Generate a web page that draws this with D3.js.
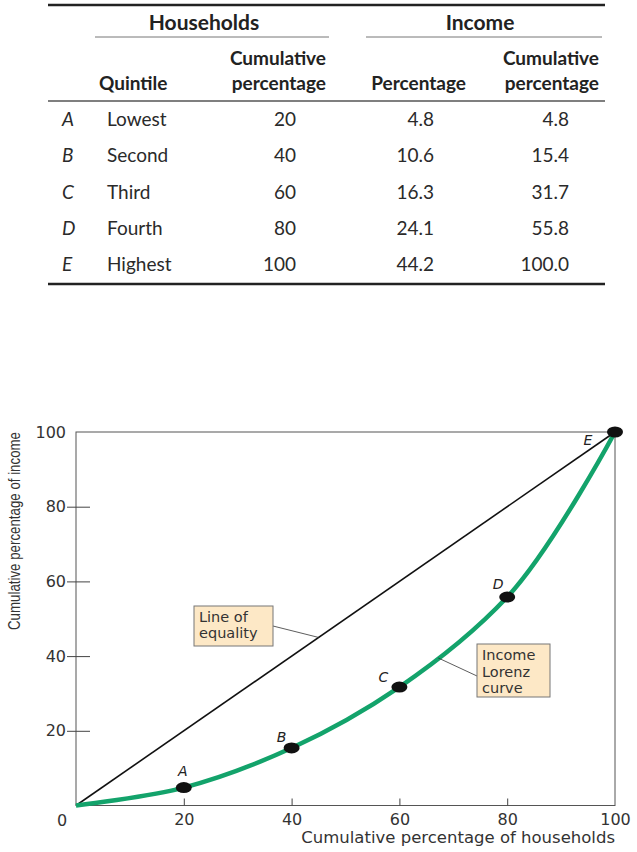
<!DOCTYPE html>
<html>
<head>
<meta charset="utf-8">
<script src="https://cdn.jsdelivr.net/npm/d3@7"></script>
<style>
  body { margin: 0; background: #fff; }
  svg { display: block; }
</style>
</head>
<body>
<svg id="chart" width="637" height="852"></svg>
<script>
// table data
var letters = ['A', 'B', 'C', 'D', 'E'];
var quintiles = ['Lowest', 'Second', 'Third', 'Fourth', 'Highest'];
var householdsCum = [20, 40, 60, 80, 100];
var incomePct = ['4.8', '10.6', '16.3', '24.1', '44.2'];
var incomeCum = ['4.8', '15.4', '31.7', '55.8', '100.0'];

// chart data
var xTicks = [20, 40, 60, 80, 100];
var yTicks = [20, 40, 60, 80, 100];
var equality = [0, 100];
var lorenzX = [0, 20, 40, 60, 80, 100];
var lorenzY = [0, 4.8, 15.4, 31.7, 55.8, 100];

var svg = d3.select('#chart');
var tableFont = 'Lato, "Open Sans", sans-serif';
var chartFont = '"DejaVu Sans", sans-serif';

// ---- table ----
var table = svg.append('g');
var rowY = d3.scalePoint().domain(letters).range([126, 271]);

table.append('line').attr('x1', 48).attr('x2', 605).attr('y1', 5).attr('y2', 5)
  .attr('stroke', '#222').attr('stroke-width', 2.5);
table.append('line').attr('x1', 48).attr('x2', 605).attr('y1', 101).attr('y2', 101)
  .attr('stroke', '#555').attr('stroke-width', 1.5);
table.append('line').attr('x1', 48).attr('x2', 605).attr('y1', 284).attr('y2', 284)
  .attr('stroke', '#222').attr('stroke-width', 2.5);
table.append('line').attr('x1', 95).attr('x2', 329).attr('y1', 37).attr('y2', 37)
  .attr('stroke', '#777').attr('stroke-width', 1);
table.append('line').attr('x1', 366).attr('x2', 602).attr('y1', 37).attr('y2', 37)
  .attr('stroke', '#777').attr('stroke-width', 1);

var heads = [
  { t: 'Households', x: 204, y: 30, a: 'middle' },
  { t: 'Income', x: 480, y: 30, a: 'middle' },
  { t: 'Quintile', x: 99, y: 90, a: 'start' },
  { t: 'Cumulative', x: 326, y: 65, a: 'end' },
  { t: 'percentage', x: 326, y: 90, a: 'end' },
  { t: 'Percentage', x: 466, y: 90, a: 'end' },
  { t: 'Cumulative', x: 599, y: 65, a: 'end' },
  { t: 'percentage', x: 599, y: 90, a: 'end' }
];
table.selectAll('text.head').data(heads).enter().append('text')
  .attr('class', 'head')
  .attr('x', function (d) { return d.x; })
  .attr('y', function (d) { return d.y; })
  .attr('text-anchor', function (d) { return d.a; })
  .attr('font-family', tableFont)
  .attr('font-weight', 'bold')
  .attr('font-size', function (d) { return d.t === 'Households' || d.t === 'Income' ? 21 : 19; })
  .attr('fill', '#222')
  .text(function (d) { return d.t; });

function col(values, x, anchor, italic) {
  table.append('g').selectAll('text').data(values).enter().append('text')
    .attr('x', x)
    .attr('y', function (d, i) { return rowY(letters[i]); })
    .attr('text-anchor', anchor)
    .attr('font-family', tableFont)
    .attr('font-style', italic ? 'italic' : 'normal')
    .attr('font-size', 19)
    .attr('fill', '#2a2a2a')
    .text(function (d) { return d; });
}
col(letters, 62, 'start', true);
col(quintiles, 107, 'start', false);
col(householdsCum, 296, 'end', false);
col(incomePct, 434, 'end', false);
col(incomeCum, 569, 'end', false);

// ---- chart ----
var x = d3.scaleLinear().domain([0, 100]).range([76, 615]);
var y = d3.scaleLinear().domain([0, 100]).range([805.5, 432]);

var plot = svg.append('g');

// frame
plot.append('rect')
  .attr('x', x(0)).attr('y', y(100))
  .attr('width', x(100) - x(0)).attr('height', y(0) - y(100))
  .attr('fill', 'none').attr('stroke', '#555').attr('stroke-width', 1);

var xAxis = plot.append('g')
  .attr('transform', 'translate(0,' + y(0) + ')')
  .call(d3.axisBottom(x).tickValues(xTicks).tickSize(-7).tickPadding(8));
xAxis.select('.domain').remove();
xAxis.selectAll('.tick line').attr('stroke', '#444');
xAxis.selectAll('.tick').filter(function (d) { return d === 100; }).select('line').remove();
xAxis.selectAll('text')
  .attr('font-family', chartFont).attr('font-size', 16).attr('fill', '#333');

var yAxis = plot.append('g')
  .attr('transform', 'translate(' + x(0) + ',0)')
  .call(d3.axisLeft(y).tickValues(yTicks).tickSize(9).tickPadding(1));
yAxis.select('.domain').remove();
yAxis.selectAll('.tick line').attr('x2', 14).attr('x1', -9).attr('stroke', '#444');
yAxis.selectAll('.tick').filter(function (d) { return d === 100; }).select('line').remove();
yAxis.selectAll('text')
  .attr('font-family', chartFont).attr('font-size', 16).attr('fill', '#333');

plot.append('text')
  .attr('x', x(0) - 14).attr('y', y(0) + 20)
  .attr('text-anchor', 'middle')
  .attr('font-family', chartFont).attr('font-size', 16).attr('fill', '#333')
  .text('0');

// axis titles
plot.append('text')
  .attr('x', x(100)).attr('y', 843)
  .attr('text-anchor', 'end')
  .attr('font-family', chartFont).attr('font-size', 16.5).attr('fill', '#333')
  .text('Cumulative percentage of households');
plot.append('text')
  .attr('transform', 'translate(20,' + y(100) + ')rotate(-90)')
  .attr('text-anchor', 'end')
  .attr('font-family', '"Liberation Sans Narrow", "Liberation Sans", sans-serif')
  .attr('font-size', 17).attr('fill', '#333')
  .attr('textLength', 198).attr('lengthAdjust', 'spacingAndGlyphs')
  .text('Cumulative percentage of income');

// line of equality
plot.append('path')
  .datum(equality)
  .attr('d', d3.line().x(function (d) { return x(d); }).y(function (d) { return y(d); }))
  .attr('fill', 'none').attr('stroke', '#111').attr('stroke-width', 1.6);

// Lorenz curve
var lorenz = lorenzX.map(function (v, i) { return [v, lorenzY[i]]; });
plot.append('path')
  .datum(lorenz)
  .attr('d', d3.line()
    .x(function (d) { return x(d[0]); })
    .y(function (d) { return y(d[1]); })
    .curve(d3.curveCatmullRom.alpha(1)))
  .attr('fill', 'none').attr('stroke', '#13a36b').attr('stroke-width', 4.5);

// points and letters
var labelOffset = { A: [-1, -12], B: [-10, -6], C: [-16, -5], D: [-9, -8], E: [-27, 13] };
var pts = lorenz.slice(1);
plot.selectAll('ellipse.pt').data(pts).enter().append('ellipse')
  .attr('class', 'pt')
  .attr('cx', function (d) { return x(d[0]); })
  .attr('cy', function (d) { return y(d[1]); })
  .attr('rx', 8).attr('ry', 5.5)
  .attr('fill', '#111');
plot.selectAll('text.pt').data(pts).enter().append('text')
  .attr('class', 'pt')
  .attr('x', function (d, i) { return x(d[0]) + labelOffset[letters[i]][0]; })
  .attr('y', function (d, i) { return y(d[1]) + labelOffset[letters[i]][1]; })
  .attr('text-anchor', 'middle')
  .attr('font-family', chartFont).attr('font-style', 'italic')
  .attr('font-size', 14).attr('fill', '#222')
  .text(function (d, i) { return letters[i]; });

// annotation boxes
function note(lines, bx, by, bw, bh, lh, from, to) {
  var g = plot.append('g');
  g.append('line')
    .attr('x1', from[0]).attr('y1', from[1])
    .attr('x2', x(to[0])).attr('y2', y(to[1]))
    .attr('stroke', '#333').attr('stroke-width', 0.8);
  g.append('rect')
    .attr('x', bx).attr('y', by).attr('width', bw).attr('height', bh)
    .attr('fill', '#fde8c6').attr('stroke', '#777').attr('stroke-width', 1);
  g.selectAll('text').data(lines).enter().append('text')
    .attr('x', bx + 5)
    .attr('y', function (d, i) { return by + 16 + i * lh; })
    .attr('font-family', chartFont).attr('font-size', 14.5).attr('fill', '#333')
    .text(function (d) { return d; });
}
note(['Line of', 'equality'], 194, 606, 79, 40, 16, [273, 626], [45, 45]);
note(['Income', 'Lorenz', 'curve'], 477, 644, 73, 53, 16.5, [477, 676], [67.2, 39.5]);
</script>
</body>
</html>
